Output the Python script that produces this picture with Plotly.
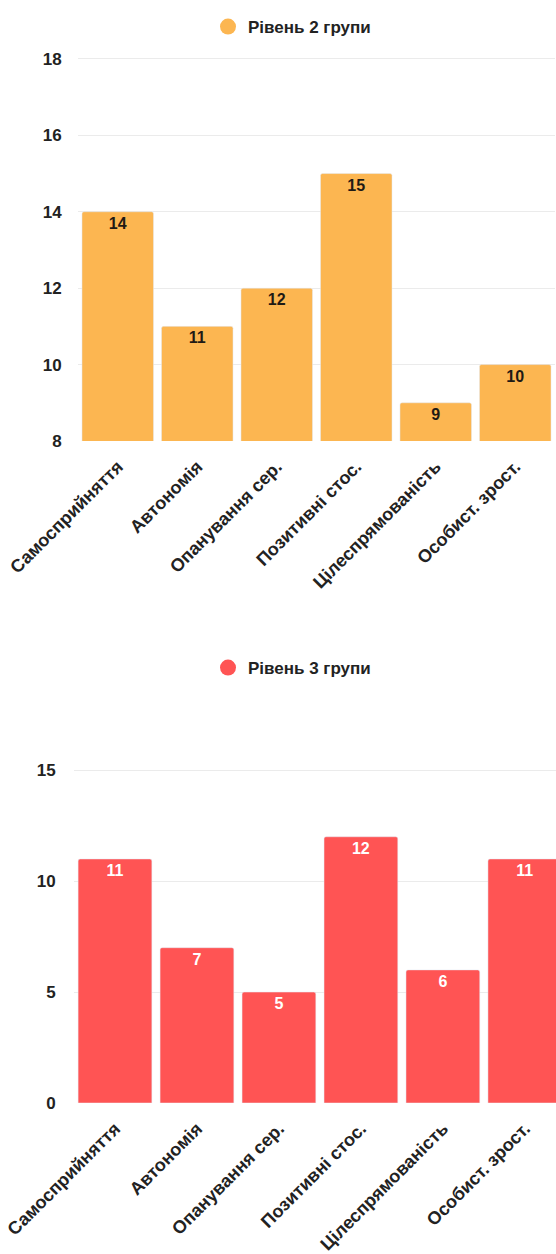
import plotly.graph_objects as go

categories = ["Самосприйняття", "Автономія", "Опанування сер.", "Позитивні стос.", "Цілеспрямованість", "Особист. зрост."]
level2_values = [14, 11, 12, 15, 9, 10]
level3_values = [11, 7, 5, 12, 6, 11]
level2_name = "Рівень 2 групи"
level3_name = "Рівень 3 групи"

ORANGE = "#FCB651"
RED = "#FF5454"
FONT = "Liberation Sans, Arial, sans-serif"
W, H = 556, 1254

def py(px):
    return 1 - px / H

fig = go.Figure()

fig.add_trace(go.Bar(
    x=categories, y=level2_values, marker=dict(color=ORANGE), xaxis="x", yaxis="y",
    text=[str(v) for v in level2_values], textposition="inside", insidetextanchor="end",
    textfont=dict(family=FONT, size=16, color="#1f1a14", weight="bold"),
    showlegend=False, hoverinfo="x+y",
))
fig.add_trace(go.Scatter(
    x=[None], y=[None], mode="markers", name=level2_name, xaxis="x", yaxis="y",
    marker=dict(color=ORANGE, size=16, symbol="circle"), legend="legend",
))
fig.add_trace(go.Bar(
    x=categories, y=level3_values, marker=dict(color=RED), xaxis="x2", yaxis="y2",
    text=[str(v) for v in level3_values], textposition="inside", insidetextanchor="end",
    textfont=dict(family=FONT, size=16, color="#ffffff", weight="bold"),
    showlegend=False, hoverinfo="x+y",
))
fig.add_trace(go.Scatter(
    x=[None], y=[None], mode="markers", name=level3_name, xaxis="x2", yaxis="y2",
    marker=dict(color=RED, size=16, symbol="circle"), legend="legend2",
))

tickfont = dict(family=FONT, size=18, color="#222222", weight="bold")
ytickfont = dict(family=FONT, size=17, color="#222222", weight="bold")
grid = "#ebebeb"
clear = "rgba(0,0,0,0)"

fig.update_layout(
    width=W, height=H,
    margin=dict(l=0, r=0, t=0, b=0, autoexpand=False),
    paper_bgcolor="white", plot_bgcolor="white",
    bargap=0.1,
    barcornerradius=2,
    font=dict(family=FONT, color="#222222"),
    xaxis=dict(domain=[78 / W, 555 / W], anchor="y", tickangle=-45, tickfont=tickfont,
               showgrid=False, showline=False, ticks="outside", ticklen=7, tickcolor=clear,
               range=[-0.5, 5.5], automargin=False),
    yaxis=dict(domain=[py(441), py(57)], anchor="x", range=[8, 18.05], tickvals=[8, 10, 12, 14, 16, 18],
               tickfont=ytickfont, automargin=False,
               showgrid=True, gridcolor=grid, gridwidth=1, zeroline=False, showline=False,
               ticks="outside", ticklen=12, tickcolor=clear),
    xaxis2=dict(domain=[74 / W, 1.0], anchor="y2", tickangle=-45, tickfont=tickfont,
                showgrid=False, showline=False, ticks="outside", ticklen=7, tickcolor=clear,
                range=[-0.5, 5.38], automargin=False),
    yaxis2=dict(domain=[py(1103), py(768)], anchor="x2", range=[0, 15.1], tickvals=[0, 5, 10, 15],
                tickfont=ytickfont, automargin=False,
                showgrid=True, gridcolor=grid, gridwidth=1, zeroline=False, showline=False,
                ticks="outside", ticklen=14, tickcolor=clear),
    legend=dict(x=208 / W, xanchor="left", y=py(27), yanchor="middle", orientation="h",
                font=dict(family=FONT, size=17, color="#222222", weight="bold"),
                bgcolor=clear),
    legend2=dict(x=208 / W, xanchor="left", y=py(668), yanchor="middle", orientation="h",
                 font=dict(family=FONT, size=17, color="#222222", weight="bold"),
                 bgcolor=clear),
)

fig.write_html("out.html", config={"displayModeBar": False})
